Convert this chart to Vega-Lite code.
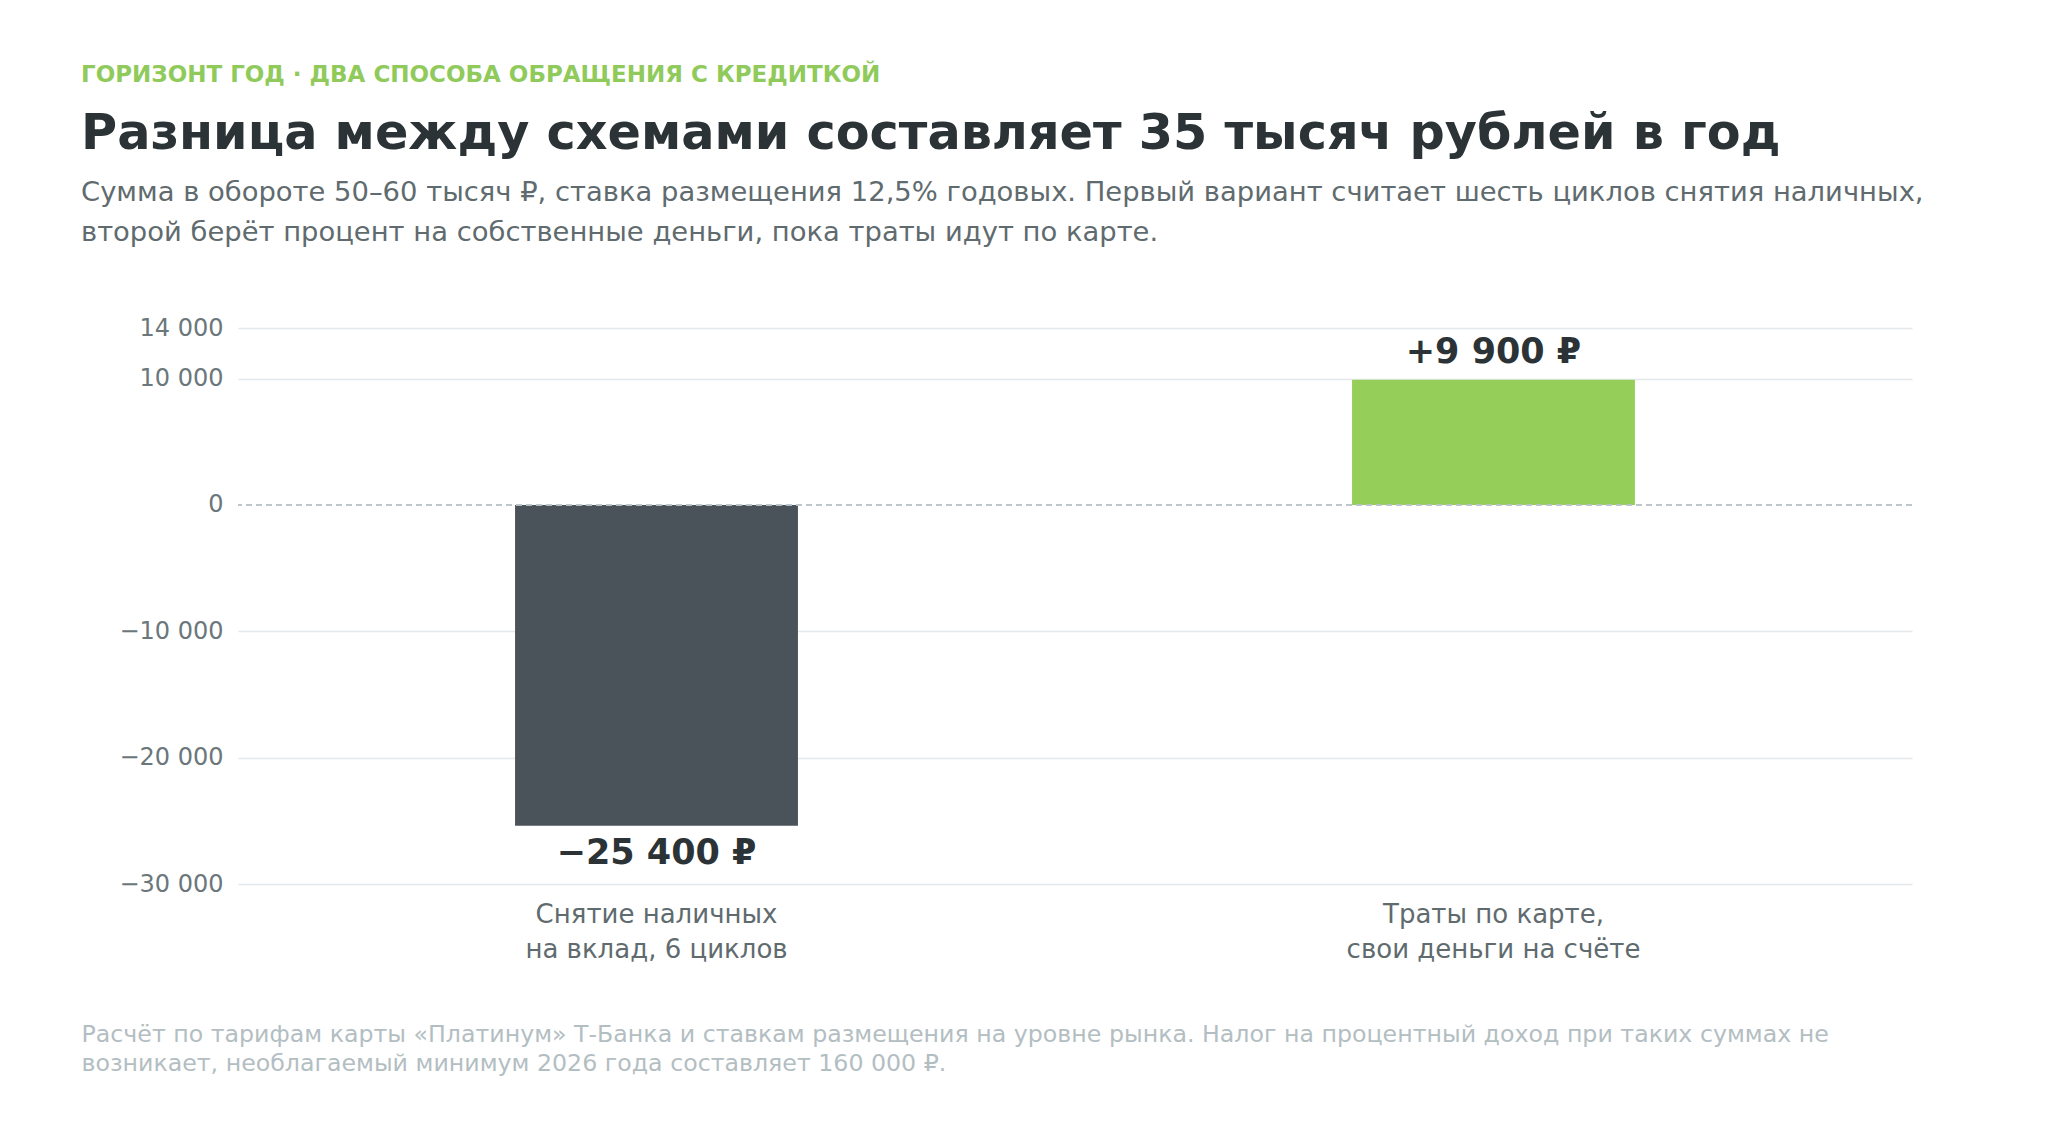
{
  "$schema": "https://vega.github.io/schema/vega-lite/v6.json",
  "background": "#ffffff",
  "padding": {"left": 81, "top": 64, "right": 100, "bottom": 60},
  "config": {
    "font": "DejaVu Sans",
    "view": {"stroke": null},
    "locale": {
      "number": {"decimal": ",", "thousands": " ", "grouping": [3], "currency": ["", " ₽"], "minus": "−"}
    }
  },
  "title": {
    "text": "ГОРИЗОНТ ГОД · ДВА СПОСОБА ОБРАЩЕНИЯ С КРЕДИТКОЙ",
    "anchor": "start",
    "font": "DejaVu Sans",
    "fontSize": 23,
    "fontWeight": "bold",
    "color": "#8fca5b",
    "offset": 23
  },
  "vconcat": [
    {
      "width": 1674,
      "height": 556,
      "title": {
        "text": "Разница между схемами составляет 35 тысяч рублей в год",
        "subtitle": [
          "Сумма в обороте 50–60 тысяч ₽, ставка размещения 12,5% годовых. Первый вариант считает шесть циклов снятия наличных,",
          "второй берёт процент на собственные деньги, пока траты идут по карте."
        ],
        "anchor": "start",
        "font": "DejaVu Sans",
        "fontSize": 49.3,
        "fontWeight": "bold",
        "color": "#2b3336",
        "subtitleFont": "DejaVu Sans",
        "subtitleFontSize": 27.4,
        "subtitleColor": "#5f6b6e",
        "subtitleLineHeight": 40,
        "subtitlePadding": 19,
        "offset": 70
      },
      "data": {
        "values": [
          {"scheme": "Снятие наличных\nна вклад, 6 циклов", "value": -25400, "label": "−25 400 ₽", "kind": "cash"},
          {"scheme": "Траты по карте,\nсвои деньги на счёте", "value": 9900, "label": "+9 900 ₽", "kind": "card"}
        ]
      },
      "layer": [
        {
          "encoding": {
            "x": {
              "field": "scheme",
              "type": "nominal",
              "sort": null,
              "scale": {"paddingInner": 0, "paddingOuter": 0},
              "axis": {
                "labelAngle": 0,
                "labelExpr": "split(datum.label, '\\n')",
                "labelLimit": 0,
                "labelFontSize": 26,
                "labelLineHeight": 35,
                "labelColor": "#5f6b6e",
                "labelPadding": 17,
                "labelBaseline": "top",
                "domain": false,
                "ticks": false,
                "grid": false,
                "title": [
                  "Расчёт по тарифам карты «Платинум» Т-Банка и ставкам размещения на уровне рынка. Налог на процентный доход при таких суммах не",
                  "возникает, необлагаемый минимум 2026 года составляет 160 000 ₽."
                ],
                "titleAnchor": "start",
                "titleAlign": "left",
                "titleX": -157,
                "titleY": 138,
                "titleBaseline": "top",
                "titleFontSize": 23.7,
                "titleFontWeight": "normal",
                "titleColor": "#b3bec2",
                "titleLineHeight": 29
              }
            }
          },
          "layer": [
            {
              "mark": {"type": "bar", "width": {"band": 0.338}},
              "encoding": {
                "y": {
                  "field": "value",
                  "type": "quantitative",
                  "scale": {"domain": [-30000, 14000], "nice": false, "zero": true},
                  "axis": {
                    "values": [-30000, -20000, -10000, 0, 10000, 14000],
                    "format": ",d",
                    "labelFontSize": 24,
                    "labelColor": "#6b777b",
                    "labelPadding": 15,
                    "minExtent": 157,
                    "domain": false,
                    "ticks": false,
                    "gridColor": {"condition": {"test": "datum.value === 0", "value": "transparent"}, "value": "#e4e8eb"},
                    "gridWidth": 1.5,
                    "title": null
                  }
                },
                "color": {
                  "field": "kind",
                  "type": "nominal",
                  "scale": {"domain": ["cash", "card"], "range": ["#4b535a", "#96ce5a"]},
                  "legend": null
                }
              }
            },
            {
              "transform": [{"filter": "datum.value > 0"}],
              "mark": {"type": "text", "baseline": "bottom", "dy": -10, "fontSize": 35, "fontWeight": "bold", "color": "#2b3336"},
              "encoding": {
                "y": {"field": "value", "type": "quantitative"},
                "text": {"field": "label"}
              }
            },
            {
              "transform": [{"filter": "datum.value < 0"}],
              "mark": {"type": "text", "baseline": "top", "dy": 10, "fontSize": 35, "fontWeight": "bold", "color": "#2b3336"},
              "encoding": {
                "y": {"field": "value", "type": "quantitative"},
                "text": {"field": "label"}
              }
            }
          ]
        },
        {
          "mark": {"type": "rule", "color": "#b9c2c6", "strokeDash": [6, 4], "strokeWidth": 1.5},
          "encoding": {"y": {"datum": 0}}
        }
      ]
    }
  ]
}
